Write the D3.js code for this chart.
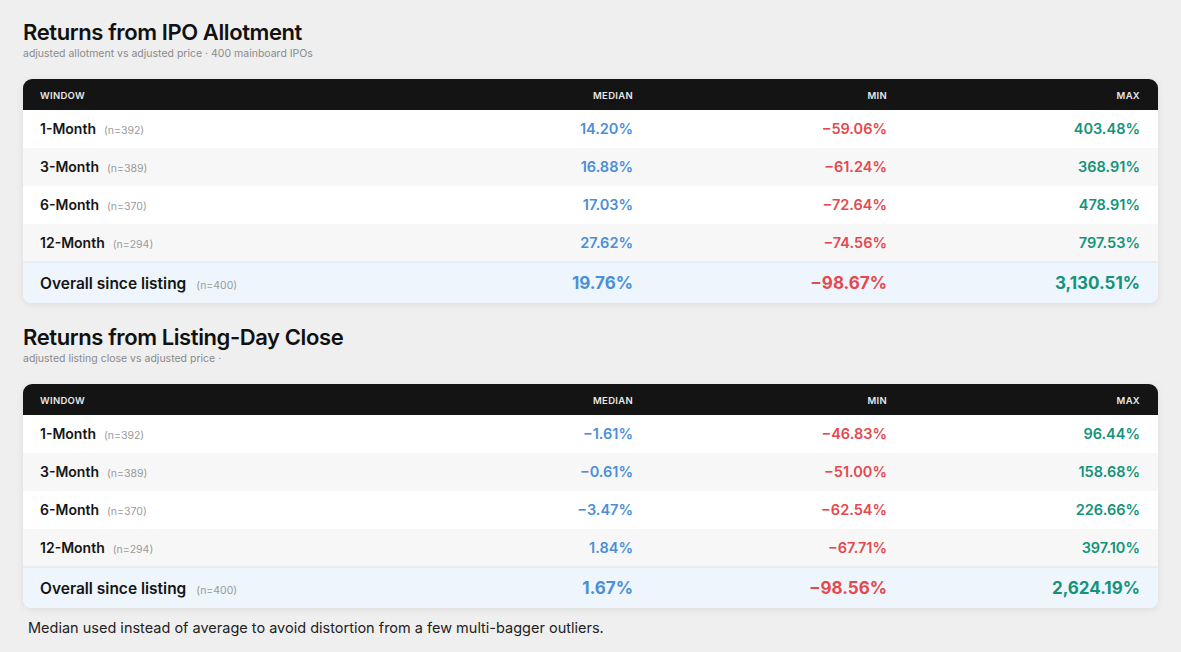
<!DOCTYPE html>
<html><head><meta charset="utf-8">
<script src="https://d3js.org/d3.v7.min.js"></script>
<style>body{margin:0;background:#efefef;font-family:Inter,"Noto Sans",sans-serif;}</style>
</head><body>
<script>
var windows = ["1-Month", "3-Month", "6-Month", "12-Month", "Overall since listing"];
var counts = [392, 389, 370, 294, 400];
var columns = ["WINDOW", "MEDIAN", "MIN", "MAX"];
var allotMedian = [14.20, 16.88, 17.03, 27.62, 19.76];
var allotMin = [-59.06, -61.24, -72.64, -74.56, -98.67];
var allotMax = [403.48, 368.91, 478.91, 797.53, 3130.51];
var listMedian = [-1.61, -0.61, -3.47, 1.84, 1.67];
var listMin = [-46.83, -51.00, -62.54, -67.71, -98.56];
var listMax = [96.44, 158.68, 226.66, 397.10, 2624.19];

var W = 1181, H = 652;
var svg = d3.select('body').append('svg').attr('width', W).attr('height', H);
var defs = svg.append('defs');
var f = defs.append('filter').attr('id', 'sh').attr('x', '-5%').attr('y', '-10%').attr('width', '110%').attr('height', '130%');
f.append('feDropShadow').attr('dx', 0).attr('dy', 2).attr('stdDeviation', 3).attr('flood-color', '#000').attr('flood-opacity', 0.08);

var fmt = d3.format(',.2f');
var colColor = {MEDIAN: '#4a8fd8', MIN: '#e5484d', MAX: '#12937a'};
var x = d3.scalePoint().domain(columns).range([40, 1140]);
var colRight = {MEDIAN: 633, MIN: 887, MAX: 1140};

function drawTable(top, title, subtitle, med, mn, mx) {
  var g = svg.append('g').attr('transform', 'translate(0,' + top + ')');
  g.append('text').attr('x', 23).attr('y', 0).attr('font-size', 22).attr('font-weight', 600)
    .attr('fill', '#111').attr('letter-spacing', -0.4).text(title);
  g.append('text').attr('x', 23).attr('y', 17).attr('font-size', 10.5).attr('fill', '#8a8a8a').text(subtitle);

  var left = 23, right = 1158, hy = 39, hh = 31;
  var y = d3.scaleBand().domain(d3.range(5)).range([hy + hh, hy + hh + 38 * 4 + 41]);
  var rowH = [38, 38, 38, 38, 41];
  var rowY = [0]; rowH.forEach(function (h, i) { rowY.push(rowY[i] + h); });
  var tH = hh + rowY[5];
  var card = g.append('g');
  card.append('clipPath').attr('id', 'c' + top).append('rect')
    .attr('x', left).attr('y', hy).attr('width', right - left).attr('height', tH).attr('rx', 9);
  card.append('rect').attr('x', left).attr('y', hy).attr('width', right - left).attr('height', tH)
    .attr('rx', 9).attr('fill', '#fff').attr('filter', 'url(#sh)');
  var inner = card.append('g').attr('clip-path', 'url(#c' + top + ')');
  inner.append('rect').attr('x', left).attr('y', hy).attr('width', right - left).attr('height', hh).attr('fill', '#141414');
  var rows = inner.selectAll('.row').data(windows).enter().append('g')
    .attr('transform', function (d, i) { return 'translate(0,' + (hy + hh + rowY[i]) + ')'; });
  rows.append('rect').attr('x', left).attr('width', right - left)
    .attr('height', function (d, i) { return rowH[i]; })
    .attr('fill', function (d, i) { return i === 4 ? '#eef5fc' : (i % 2 ? '#f7f7f7' : '#fff'); });
  inner.append('line').attr('x1', left).attr('x2', right)
    .attr('y1', hy + hh + rowY[4]).attr('y2', hy + hh + rowY[4]).attr('stroke', '#dde3ea');

  g.selectAll('.hd').data(columns).enter().append('text')
    .attr('x', function (d) { return d === 'WINDOW' ? x(d) : colRight[d]; })
    .attr('y', hy + 19.5).attr('text-anchor', function (d) { return d === 'WINDOW' ? 'start' : 'end'; })
    .attr('font-size', 9.5).attr('font-weight', 600).attr('fill', '#e8e8e8').attr('letter-spacing', 0.3)
    .text(function (d) { return d; });

  rows.each(function (d, i) {
    var r = d3.select(this), big = i === 4, cy = rowH[i] / 2 + (big ? 6 : 5);
    var t = r.append('text').attr('x', 40).attr('y', cy).attr('font-size', big ? 15.5 : 14)
      .attr('font-weight', 600).attr('fill', '#151515');
    t.append('tspan').text(d);
    t.append('tspan').attr('dx', big ? 10 : 8).attr('font-size', 10.5).attr('font-weight', 400)
      .attr('fill', '#9a9a9a').text('(n=' + counts[i] + ')');
    [['MEDIAN', med], ['MIN', mn], ['MAX', mx]].forEach(function (c) {
      r.append('text').attr('x', colRight[c[0]]).attr('y', cy).attr('text-anchor', 'end')
        .attr('font-size', big ? 17 : 14.5).attr('font-weight', big ? 700 : 600)
        .attr('fill', colColor[c[0]]).text(fmt(c[1][i]) + '%');
    });
  });
}

drawTable(40, 'Returns from IPO Allotment', 'adjusted allotment vs adjusted price · 400 mainboard IPOs', allotMedian, allotMin, allotMax);
drawTable(345, 'Returns from Listing-Day Close', 'adjusted listing close vs adjusted price ·', listMedian, listMin, listMax);

svg.append('text').attr('x', 28).attr('y', 633).attr('font-size', 14.5).attr('fill', '#222')
  .text('Median used instead of average to avoid distortion from a few multi-bagger outliers.');
</script>
</body></html>
